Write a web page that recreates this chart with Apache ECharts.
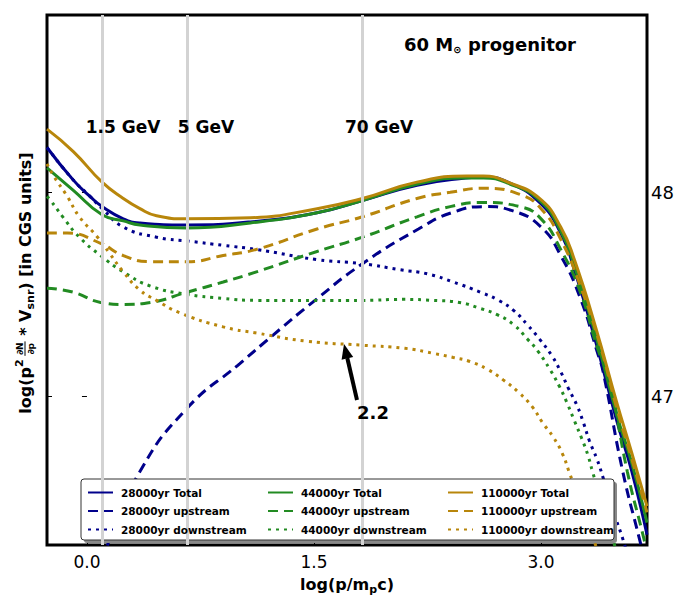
<!DOCTYPE html>
<html>
<head>
<meta charset="utf-8">
<script src="https://cdn.jsdelivr.net/npm/echarts@6/dist/echarts.min.js"></script>
<style>html,body{margin:0;padding:0;background:#fff}#c{width:686px;height:595px}</style>
</head>
<body>
<div id="c"></div>
<script>
// ---- data (x = log(p/m_p c), y = log(p^2 dN/dp * V_snr)) ----
const xTicks = [0.0, 1.5, 3.0];
const yTicks = [47, 48];
const energyLines = [0.1, 0.66, 1.82];
const energyLabels = ['1.5 GeV', '5 GeV', '70 GeV'];

const total28 = [[-0.264,48.22],[-0.09,48.06],[0.02,47.98],[0.1,47.93],[0.24,47.87],[0.35,47.85],[0.66,47.84],[1.08,47.855],[1.52,47.90],[1.82,47.96],[2.18,48.035],[2.5,48.07],[2.62,48.075],[2.78,48.05],[2.99,47.95],[3.13,47.80],[3.22,47.62],[3.36,47.27],[3.5,46.88],[3.6,46.63],[3.7,46.32]];
const up28 = [[0.06,46.12],[0.13,46.26],[0.35,46.63],[0.66,46.94],[1.01,47.16],[1.23,47.30],[1.49,47.46],[1.82,47.65],[2.19,47.82],[2.41,47.90],[2.63,47.93],[2.81,47.91],[3.0,47.83],[3.13,47.69],[3.26,47.48],[3.37,47.22],[3.41,47.12],[3.54,46.63],[3.65,46.30],[3.7,46.15]];
const down28 = [[-0.264,48.22],[-0.09,48.06],[0.02,47.98],[0.1,47.92],[0.24,47.83],[0.46,47.78],[0.68,47.76],[0.9,47.74],[1.12,47.72],[1.52,47.67],[1.82,47.65],[2.07,47.62],[2.25,47.60],[2.42,47.56],[2.60,47.51],[2.72,47.47],[2.82,47.42],[2.91,47.35],[2.99,47.28],[3.07,47.20],[3.13,47.12],[3.18,47.04],[3.24,46.95],[3.28,46.87],[3.32,46.78],[3.37,46.69],[3.41,46.60],[3.48,46.43],[3.54,46.30],[3.6,46.15]];

const total44 = [[-0.264,48.12],[-0.09,48.01],[0.1,47.89],[0.24,47.86],[0.35,47.84],[0.66,47.825],[1.08,47.85],[1.52,47.90],[1.82,47.96],[2.18,48.04],[2.5,48.07],[2.62,48.07],[2.78,48.045],[2.99,47.96],[3.13,47.81],[3.22,47.64],[3.36,47.30],[3.5,46.91],[3.6,46.67],[3.7,46.38]];
const up44 = [[-0.264,47.53],[-0.09,47.51],[0.09,47.46],[0.24,47.45],[0.42,47.46],[0.66,47.51],[0.9,47.56],[1.12,47.61],[1.52,47.71],[1.82,47.78],[2.18,47.88],[2.40,47.93],[2.62,47.95],[2.86,47.93],[3.0,47.87],[3.13,47.72],[3.26,47.51],[3.38,47.22],[3.44,47.12],[3.57,46.63],[3.67,46.33],[3.72,46.18]];
const down44 = [[-0.264,47.98],[-0.24,47.96],[-0.16,47.88],[-0.05,47.78],[0.09,47.69],[0.24,47.61],[0.42,47.54],[0.66,47.50],[0.9,47.48],[1.12,47.47],[1.52,47.47],[1.82,47.47],[2.09,47.475],[2.29,47.47],[2.46,47.46],[2.60,47.43],[2.71,47.40],[2.82,47.35],[2.91,47.28],[2.98,47.22],[3.06,47.13],[3.12,47.05],[3.17,46.97],[3.22,46.88],[3.27,46.79],[3.31,46.71],[3.34,46.63],[3.45,46.36],[3.52,46.18]];

const total110 = [[-0.264,48.31],[-0.09,48.20],[0.1,48.05],[0.24,47.97],[0.35,47.92],[0.46,47.885],[0.66,47.87],[1.08,47.875],[1.52,47.92],[1.82,47.97],[2.18,48.05],[2.51,48.08],[2.62,48.08],[2.78,48.05],[2.99,47.97],[3.13,47.83],[3.22,47.67],[3.36,47.34],[3.5,46.97],[3.6,46.72],[3.7,46.46]];
const up110 = [[-0.264,47.80],[-0.13,47.80],[0.09,47.75],[0.24,47.69],[0.42,47.66],[0.66,47.66],[0.9,47.69],[1.12,47.72],[1.52,47.82],[1.82,47.88],[2.18,47.97],[2.40,48.00],[2.62,48.02],[2.86,47.99],[3.0,47.92],[3.13,47.77],[3.26,47.54],[3.39,47.25],[3.5,46.94],[3.6,46.69],[3.7,46.43]];
const down110 = [[-0.264,48.14],[-0.22,48.08],[-0.13,47.98],[-0.05,47.88],[0.07,47.78],[0.15,47.70],[0.24,47.61],[0.35,47.52],[0.46,47.47],[0.61,47.41],[0.9,47.34],[1.12,47.31],[1.45,47.27],[1.82,47.25],[2.10,47.235],[2.29,47.21],[2.42,47.19],[2.53,47.17],[2.65,47.13],[2.75,47.08],[2.85,47.02],[2.94,46.95],[3.01,46.87],[3.08,46.80],[3.14,46.72],[3.185,46.63],[3.36,46.27],[3.42,46.15]];

const seriesNames = [
  ['28000yr Total','28000yr upstream','28000yr downstream'],
  ['44000yr Total','44000yr upstream','44000yr downstream'],
  ['110000yr Total','110000yr upstream','110000yr downstream']
];
const seriesData = [[total28, up28, down28],[total44, up44, down44],[total110, up110, down110]];
const colors = ['#00008B', '#228B22', '#B8860B'];
function dashFor(si) { return si === 0 ? 'solid' : si === 1 ? [10, 6] : [3, 5]; }

const FONT = '"DejaVu Sans", "Liberation Sans", sans-serif';

// ---- text measuring helper for composed math labels ----
const mctx = document.createElement('canvas').getContext('2d');
function tw(t, size, bold) { mctx.font = (bold ? 'bold ' : '') + size + 'px ' + FONT; return mctx.measureText(t).width; }
function mathLabel(pieces, cx, cy, rotation, z) {
  let W = 0;
  pieces.forEach(p => { p.w = p.frac ? Math.max(tw(p.frac[0], p.size, true), tw(p.frac[1], p.size, true)) + 2 : tw(p.t, p.size, true); W += p.w; });
  let x = -W / 2;
  const children = [];
  pieces.forEach(p => {
    if (p.frac) {
      children.push({type:'text', style:{text:p.frac[0], x:x + p.w/2, y:-p.size*0.55, font:'bold ' + p.size + 'px ' + FONT, fill:'#000', align:'center', verticalAlign:'middle'}});
      children.push({type:'text', style:{text:p.frac[1], x:x + p.w/2, y:p.size*0.65, font:'bold ' + p.size + 'px ' + FONT, fill:'#000', align:'center', verticalAlign:'middle'}});
      children.push({type:'line', shape:{x1:x, y1:0, x2:x + p.w, y2:0}, style:{stroke:'#000', lineWidth:1}});
    } else {
      children.push({type:'text', style:{text:p.t, x:x, y:(p.dy || 0), font:'bold ' + p.size + 'px ' + FONT, fill:'#000', align:'left', verticalAlign:'middle'}});
    }
    x += p.w;
  });
  return {type:'group', x:cx, y:cy, rotation:rotation || 0, z:z || 20, silent:true, children};
}

// SVG renderer: dash patterns are written as stroke-dasharray on each path
const chart = echarts.init(document.getElementById('c'), null, {renderer:'svg'});

const series = [];
series.push({
  type:'line', data:[], z:1, silent:true,
  markLine:{silent:true, symbol:['none','none'], label:{show:false},
    lineStyle:{color:'#d3d3d3', width:3, type:'solid'},
    data: energyLines.map(v => ({xAxis:v}))}
});
seriesData.forEach((grp, gi) => grp.forEach((d, si) => {
  series.push({
    name: seriesNames[gi][si], type:'line', data:d, symbol:'none', showSymbol:false,
    smooth:0.5, clip:true, z:2, silent:true,
    lineStyle:{color:colors[gi], width:3, type:dashFor(si), cap:'butt'},
    itemStyle:{color:colors[gi]},
    emphasis:{disabled:true}
  });
}));

function legendCol(names, left) {
  return {
    orient:'vertical', left:left, top:482, itemWidth:25, itemHeight:12, itemGap:7.5,
    data:names, selectedMode:false, z:6,
    itemStyle:{opacity:0},
    textStyle:{fontFamily:FONT, fontWeight:'bold', fontSize:10.5, color:'#000', padding:[0,0,0,3]}
  };
}

const arrowTail = [357, 400], arrowTip = [344, 344];

const graphic = [
  {type:'rect', shape:{x:84, y:482, width:533, height:61, r:3}, style:{fill:'#888'}, z:5, silent:true},
  {type:'rect', shape:{x:81, y:479, width:533, height:61, r:3}, style:{fill:'#fff', stroke:'#333', lineWidth:1}, z:5, silent:true},
  mathLabel([{t:'60 M', size:18},{t:'\u2299', size:10, dy:5},{t:' progenitor', size:18}], 490, 44, 0),
  mathLabel([{t:'log(p/m', size:16},{t:'p', size:11, dy:5},{t:'c)', size:16}], 347, 584, 0),
  mathLabel([{t:'log(p', size:16},{t:'2', size:11, dy:-6},{t:' ', size:10},{frac:['\u2202N','\u2202p'], size:9},{t:' * V', size:16},{t:'snr', size:11, dy:5},{t:') [in CGS units]', size:16}], 25, 283, Math.PI/2),
  {type:'text', style:{text:'2.2', x:373, y:412, font:'bold 18px ' + FONT, fill:'#000', align:'center', verticalAlign:'middle'}, z:20, silent:true},
  {type:'line', shape:{x1:arrowTail[0], y1:arrowTail[1], x2:347.3, y2:358}, style:{stroke:'#000', lineWidth:4}, z:20, silent:true},
  {type:'polygon', shape:{points:[[arrowTip[0],arrowTip[1]],[353.2,357],[341.6,359.8]]}, style:{fill:'#000'}, z:20, silent:true}
];
const labelX = [123, 206, 379];
energyLabels.forEach((t, i) => graphic.push({type:'text', style:{text:t, x:labelX[i], y:127, font:'bold 17px ' + FONT, fill:'#000', align:'center', verticalAlign:'middle'}, z:20, silent:true}));

chart.setOption({
  animation:false,
  backgroundColor:'#fff',
  grid:{left:47, right:39, top:15, bottom:50, show:true, borderColor:'#000', borderWidth:3, backgroundColor:'#fff'},
  xAxis:{type:'value', min:-0.264, max:3.70, splitLine:{show:false},
    axisLine:{show:false},
    axisTick:{show:true, inside:true, length:5, customValues:xTicks, lineStyle:{color:'#000', width:1}},
    axisLabel:{customValues:xTicks, formatter:v => v.toFixed(1), fontFamily:FONT, fontSize:17, color:'#000', margin:8}},
  yAxis:[
    {type:'value', position:'right', min:46.27, max:48.87, splitLine:{show:false}, axisLine:{show:false},
      axisTick:{show:true, inside:true, length:5, customValues:yTicks, lineStyle:{color:'#000', width:1}},
      axisLabel:{customValues:yTicks, fontFamily:FONT, fontSize:18, color:'#000', margin:4}},
    {type:'value', position:'left', min:46.27, max:48.87, splitLine:{show:false}, axisLine:{show:false},
      axisTick:{show:true, inside:true, length:5, customValues:yTicks, lineStyle:{color:'#000', width:1}},
      axisLabel:{show:false}}
  ],
  legend:[legendCol(seriesNames[0], 82), legendCol(seriesNames[1], 262), legendCol(seriesNames[2], 442)],
  series:series,
  graphic:graphic
});
</script>
</body>
</html>
